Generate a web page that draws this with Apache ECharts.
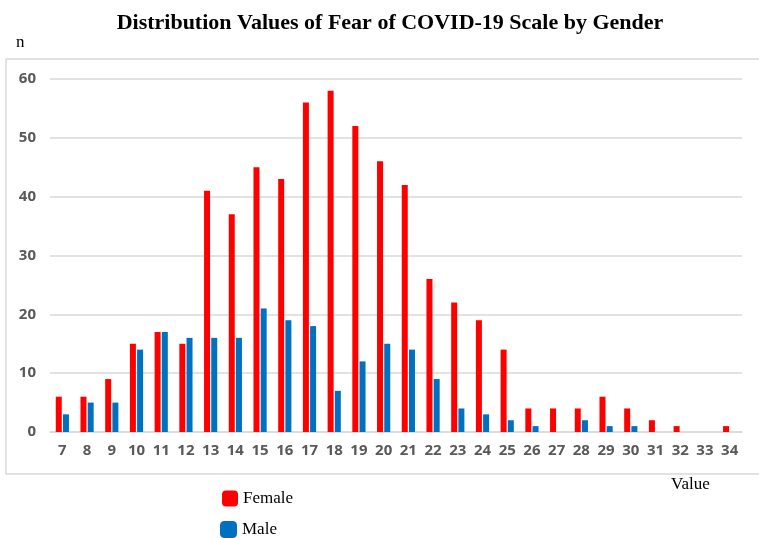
<!DOCTYPE html>
<html>
<head>
<meta charset="utf-8">
<script src="https://cdn.jsdelivr.net/npm/echarts@6/dist/echarts.min.js"></script>
<style>
  html, body { margin: 0; padding: 0; background: #fff; }
  #chart { width: 759px; height: 538px; }
</style>
</head>
<body>
<div id="chart"></div>
<script>
// scale score categories
var values = ['7','8','9','10','11','12','13','14','15','16','17','18','19','20',
              '21','22','23','24','25','26','27','28','29','30','31','32','33','34'];
var female = [6,6,9,15,17,15,41,37,45,43,56,58,52,46,42,26,22,19,14,4,4,4,6,4,2,1,0,1];
var male   = [3,5,5,14,17,16,16,16,21,19,18,7,12,15,14,9,4,3,2,1,0,2,1,1,0,0,0,0];
var yTicks = [0, 10, 20, 30, 40, 50, 60];

var legendText = {
    fontFamily: 'Liberation Serif',
    fontSize: 17,
    color: '#000'
};

var chart = echarts.init(document.getElementById('chart'));
var option = {
    backgroundColor: '#fff',
    animation: false,
    title: {
        text: 'Distribution Values of Fear of COVID-19 Scale by Gender',
        left: 385,
        textAlign: 'center',
        top: 7,
        textStyle: {
            fontFamily: 'Liberation Serif',
            fontWeight: 'bold',
            fontSize: 22,
            color: '#000'
        }
    },
    graphic: [
        {
            type: 'rect',
            shape: { x: 6, y: 59, width: 760, height: 415 },
            style: { fill: 'none', stroke: '#d9d9d9', lineWidth: 1.5 },
            z: 0
        },
        {
            type: 'text',
            left: 16, top: 34,
            style: { text: 'n', font: '17px "Liberation Serif"', fill: '#000' }
        },
        {
            type: 'text',
            left: 671, top: 476,
            style: { text: 'Value', font: '17px "Liberation Serif"', fill: '#000' }
        }
    ],
    // two legends so the items stack like the original
    legend: [
        {
            data: ['Female'],
            left: 222, top: 490, padding: 0,
            itemWidth: 16, itemHeight: 16, itemGap: 6,
            icon: 'roundRect',
            textStyle: legendText
        },
        {
            data: ['Male'],
            left: 220, top: 521, padding: 0,
            itemWidth: 17, itemHeight: 17, itemGap: 6,
            icon: 'roundRect',
            textStyle: legendText
        }
    ],
    grid: {
        left: 50,
        right: 17,
        top: 79,
        bottom: 106
    },
    xAxis: {
        type: 'category',
        data: values,
        axisTick: { show: false },
        axisLine: { show: true, lineStyle: { color: '#d9d9d9', width: 1.5 } },
        axisLabel: {
            color: '#595959',
            fontWeight: 'bold',
            fontSize: 15,
            fontFamily: 'Open Sans',
            margin: 11,
            interval: 0
        }
    },
    yAxis: {
        type: 'value',
        min: yTicks[0],
        max: yTicks[yTicks.length - 1],
        interval: 10,
        axisLine: { show: false },
        axisTick: { show: false },
        splitLine: { lineStyle: { color: '#d9d9d9', width: 1.5 } },
        axisLabel: {
            color: '#595959',
            fontWeight: 'bold',
            fontSize: 15,
            fontFamily: 'Open Sans',
            margin: 14
        }
    },
    series: [
        {
            name: 'Female',
            type: 'bar',
            data: female,
            barWidth: 6,
            barGap: '20%',
            itemStyle: { color: '#ff0000' }
        },
        {
            name: 'Male',
            type: 'bar',
            data: male,
            barWidth: 6,
            itemStyle: { color: '#0070c0' }
        }
    ]
};
chart.setOption(option);
</script>
</body>
</html>
